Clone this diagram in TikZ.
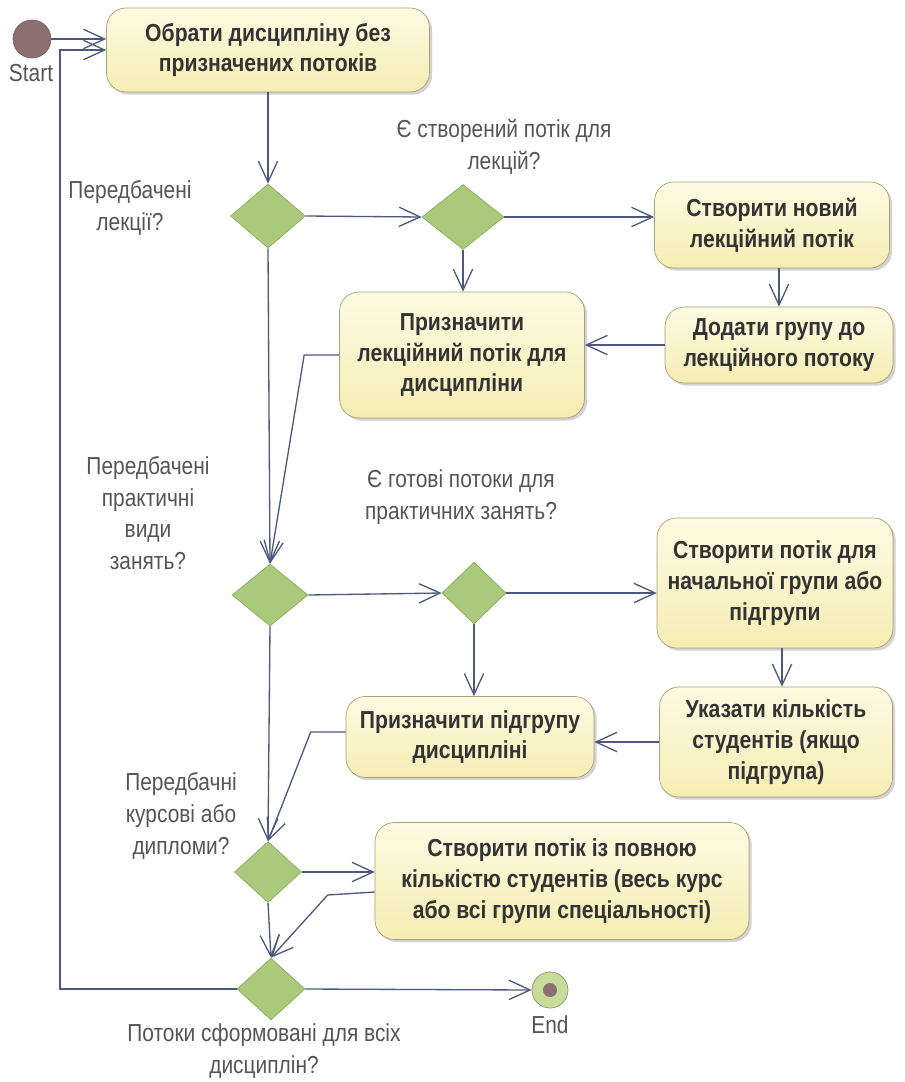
\documentclass[tikz,border=0pt]{standalone}
\usepackage{fontspec}
\setmainfont{Liberation Sans}
\newfontfamily\narrowfont[FakeStretch=0.85]{Liberation Sans}
\newfontfamily\boldfont[FakeStretch=0.86]{Liberation Sans}
\usepackage{tikz}
\usetikzlibrary{shapes.geometric, shadows, arrows.meta}
\usepackage{xcolor}
\definecolor{boxtop}{RGB}{253,250,226}
\definecolor{boxbottom}{RGB}{246,237,180}
\definecolor{boxline}{RGB}{168,160,118}
\definecolor{boxtext}{RGB}{51,51,51}
\definecolor{diamfill}{RGB}{170,201,122}
\definecolor{diamline}{RGB}{140,172,96}
\definecolor{flowline}{RGB}{76,88,128}
\definecolor{notetext}{RGB}{85,85,85}
\definecolor{startfill}{RGB}{140,112,112}
\definecolor{endfill}{RGB}{198,220,152}
\definecolor{endline}{RGB}{140,150,120}

\begin{document}
\begin{tikzpicture}[x=0.02cm,y=-0.02cm]
					\tikzstyle{action} = [rectangle,rounded corners=11pt,draw=boxline,top color=boxtop,bottom color=boxbottom,drop shadow={shadow xshift=1.5pt,shadow yshift=-1.5pt,opacity=0.35},align=center,text=boxtext,font=\boldfont\fontsize{14}{17.5}\selectfont\bfseries]
					\tikzstyle{decision} = [diamond,draw=diamline,fill=diamfill,inner sep=0pt]
					\tikzstyle{note} = [align=center,text=notetext,font=\narrowfont\fontsize{14}{18}\selectfont]
					\tikzstyle{flow} = [draw=flowline,line width=0.75pt,-{Straight Barb[length=12pt,width=11pt]}]
					\useasboundingbox (0,0) rectangle (904,1082);
					\node[circle,fill=startfill,draw=startfill!85!black,minimum size=0.76cm,inner sep=0pt] (start) at (32,39) {};
					\node[note] (startlbl) at (31,73) {Start};
					\node[action,minimum width=6.46cm,minimum height=1.68cm] (pick) at (268,50) {Обрати дисципліну без\\призначених потоків};
					\node[decision,minimum width=1.5cm,minimum height=1.28cm] (d1) at (268,216) {};
					\node[note] (lbl1) at (130,208) {Передбачені\\лекції?};
					\node[decision,minimum width=1.64cm,minimum height=1.3cm] (d2) at (463,217) {};
					\node[note] (lbl2) at (504,147) {Є створений потік для\\лекцій?};
					\node[action,minimum width=4.7cm,minimum height=1.72cm] (newlec) at (772,225) {Створити новий\\лекційний потік};
					\node[action,minimum width=4.56cm,minimum height=1.52cm] (addgrp) at (779,345) {Додати групу до\\лекційного потоку};
					\node[action,minimum width=4.9cm,minimum height=2.52cm] (setlec) at (462,355) {Призначити\\лекційний потік для\\дисципліни};
					\node[decision,minimum width=1.52cm,minimum height=1.24cm] (d3) at (270,595) {};
					\node[note] (lbl3) at (148,513) {Передбачені\\практичні\\види\\занять?};
					\node[decision,minimum width=1.28cm,minimum height=1.24cm] (d4) at (474,593) {};
					\node[note] (lbl4) at (461,497) {Є готові потоки для\\практичних занять?};
					\node[action,minimum width=4.72cm,minimum height=2.6cm] (newsub) at (775,583) {Створити потік для\\начальної групи або\\підгрупи};
					\node[action,minimum width=4.66cm,minimum height=2.2cm] (count) at (776,742) {Указати кількість\\студентів (якщо\\підгрупа)};
					\node[action,minimum width=4.96cm,minimum height=1.62cm] (setsub) at (470,737) {Призначити підгрупу\\дисципліні};
					\node[decision,minimum width=1.34cm,minimum height=1.22cm] (d5) at (268,872) {};
					\node[note] (lbl5) at (181,816) {Передбачні\\курсові або\\дипломи?};
					\node[action,minimum width=7.48cm,minimum height=2.34cm] (full) at (562,881) {Створити потік із повною\\кількістю студентів (весь курс\\або всі групи спеціальності)};
					\node[decision,minimum width=1.36cm,minimum height=1.24cm] (d6) at (271,989) {};
					\node[note] (lbl6) at (264,1051) {Потоки сформовані для всіх\\дисциплін?};
					\node[circle,fill=endfill,draw=endline,minimum size=0.72cm,inner sep=0pt] (end) at (550,990) {};
					\node[circle,fill=startfill,minimum size=0.28cm,inner sep=0pt] (enddot) at (end) {};
					\node[note] (endlbl) at (550,1025) {End};
					\coordinate (back) at (60,50);
					\draw[flow] (start.east)--(start.east -| pick.west);
					\draw[flow] (d6.west) -| (back)--(back -| pick.west);
					\draw[flow] (pick.south)--(d1.north);
					\draw[flow] (d1.east)--(d2.west);
					\draw[flow] (d2.east)--(d2.east -| newlec.west);
					\draw[flow] (d2.south)--(d2.south |- setlec.north);
					\draw[flow] (addgrp.north |- newlec.south)--(addgrp.north);
					\draw[flow] (addgrp.west)--(addgrp.west -| setlec.east);
					\draw[flow] (setlec.west)--++(-35,0)--(d3.north);
					\draw[flow] (d1.south)--(d3.north);
					\draw[flow] (d3.east)--(d4.west);
					\draw[flow] (d4.east)--(d4.east -| newsub.west);
					\draw[flow] (d4.south)--(d4.south |- setsub.north);
					\draw[flow] ([xshift=0.12cm]count.north |- newsub.south)--([xshift=0.12cm]count.north);
					\draw[flow] (count.west)--(count.west -| setsub.east);
					\draw[flow] ([yshift=0.1cm]setsub.west)--++(-35,0)--(d5.north);
					\draw[flow] (d3.south)--(d5.north);
					\draw[flow] (d5.east)--(d5.east -| full.west);
					\draw[flow] ([yshift=-0.22cm]full.west)--++(-47,3)--(d6.north);
					\draw[flow] (d5.south)--(d6.north);
					\draw[flow] (d6.east)--(end.west);
					\end{tikzpicture}
\end{document}
